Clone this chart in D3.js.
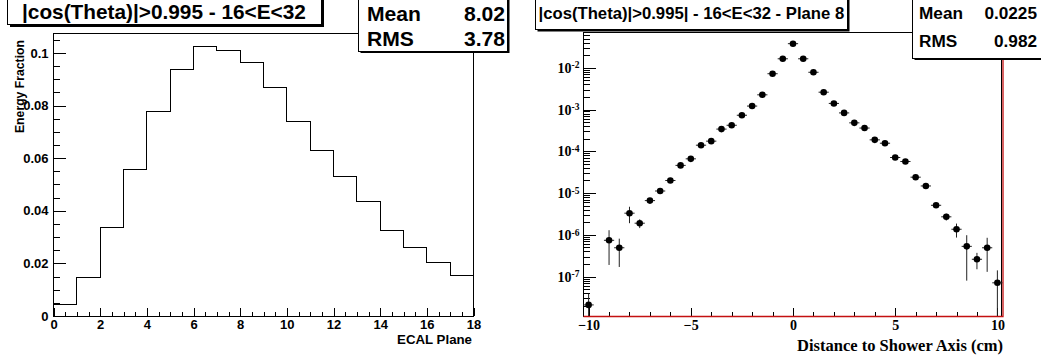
<!DOCTYPE html>
<html>
<head>
<meta charset="utf-8">
<script src="https://cdn.jsdelivr.net/npm/d3@7"></script>
<style>
  html, body { margin: 0; padding: 0; background: #fff; }
  svg { display: block; }
  .sans { font-family: "Liberation Sans", Arial, sans-serif; font-weight: bold; }
  .serif { font-family: "Liberation Serif", "Times New Roman", serif; font-weight: bold; }
</style>
</head>
<body>
<svg width="1041" height="360"></svg>
<script>
'use strict';

// ---- left panel: energy fraction per ECAL plane (bin edges 0..18)
var planeEdges = [0, 1, 2, 3, 4, 5, 6, 7, 8, 9, 10, 11, 12, 13, 14, 15, 16, 17, 18];
var energyFraction = [0.0047, 0.0150, 0.0337, 0.0558, 0.0779, 0.0940, 0.1027, 0.1011, 0.0965,
                      0.0871, 0.0743, 0.0632, 0.0532, 0.0436, 0.0328, 0.0262, 0.0207, 0.0156];
var leftYTicks = [0, 0.02, 0.04, 0.06, 0.08, 0.1];
var leftXTicks = [0, 2, 4, 6, 8, 10, 12, 14, 16, 18];
var leftStats = [["Mean", "8.02"], ["RMS", "3.78"]];

// ---- right panel: transverse profile, plane 8 (bin centres, width 0.5)
var distance = [-10, -9.5, -9, -8.5, -8, -7.5, -7, -6.5, -6, -5.5, -5, -4.5, -4, -3.5, -3, -2.5, -2, -1.5, -1, -0.5,
                0, 0.5, 1, 1.5, 2, 2.5, 3, 3.5, 4, 4.5, 5, 5.5, 6, 6.5, 7, 7.5, 8, 8.5, 9, 9.5, 10];
var profile = [2.1e-8, null, 7.4e-7, 4.9e-7, 3.3e-6, 1.9e-6, 6.6e-6, 1.12e-5, 2.0e-5, 4.6e-5, 6.6e-5,
               1.40e-4, 1.75e-4, 3.4e-4, 4.2e-4, 7.3e-4, 1.21e-3, 2.25e-3, 7.2e-3, 1.64e-2,
               3.77e-2, 1.64e-2, 7.8e-3, 2.6e-3, 1.40e-3, 8.3e-4, 4.8e-4, 3.6e-4, 1.88e-4, 1.56e-4,
               7.1e-5, 5.7e-5, 2.4e-5, 1.48e-5, 5.1e-6, 2.7e-6, 1.36e-6, 5.3e-7, 2.6e-7, 4.9e-7, 7.1e-8];
var profileErr = [1.8e-8, null, 5.5e-7, 3.2e-7, 1.4e-6, 4.5e-7, 6e-7, 8e-7, 1.2e-6, 2e-6, 2.5e-6,
                  4e-6, 5e-6, 8e-6, 9e-6, 1.3e-5, 2e-5, 3e-5, 6e-5, 1e-4,
                  1.5e-4, 1e-4, 6e-5, 3e-5, 2e-5, 1.5e-5, 1e-5, 8e-6, 5e-6, 5e-6,
                  3e-6, 2.5e-6, 1.5e-6, 1e-6, 7e-7, 5e-7, 5e-7, 4.5e-7, 1.1e-7, 3.6e-7, 7e-8];
var rightDecades = [-7, -6, -5, -4, -3, -2];
var rightXTicks = [-10, -5, 0, 5, 10];
var rightStats = [["Mean", "0.0225"], ["RMS", "0.982"]];

var svg = d3.select("svg");

// scale a text's font so it spans the wanted width
var fitText = function(t, width) {
    var fs = +t.attr("font-size");
    var len = t.node().getComputedTextLength();
    if (len > 0) t.attr("font-size", (fs * width / len).toFixed(2));
    return t;
};

var drawBox = function(x, y, w, h, shadow) {
    svg.append("rect")
        .attr("x", x + shadow).attr("y", y + shadow)
        .attr("width", w).attr("height", h)
        .attr("fill", "#000");
    svg.append("rect")
        .attr("x", x).attr("y", y)
        .attr("width", w).attr("height", h)
        .attr("fill", "#fff").attr("stroke", "#000").attr("stroke-width", 1)
        .attr("shape-rendering", "crispEdges");
};

var drawStats = function(x, y, w, h, rows, meanWidth, xl, xr, baselines) {
    drawBox(x, y, w, h, 2);
    var probe = svg.append("text").attr("class", "sans").attr("font-size", 20).text(rows[0][0]);
    fitText(probe, meanWidth);
    var fontSize = probe.attr("font-size");
    probe.remove();
    rows.forEach(function(r, i) {
        svg.append("text").attr("class", "sans").attr("font-size", fontSize)
            .attr("x", xl).attr("y", baselines[i]).text(r[0]);
        svg.append("text").attr("class", "sans").attr("font-size", fontSize)
            .attr("text-anchor", "end").attr("x", xr).attr("y", baselines[i]).text(r[1]);
    });
};

var styleAxis = function(g) {
    g.select(".domain").remove();
    g.selectAll("line").attr("stroke", "#000").attr("shape-rendering", "crispEdges");
};

// ================= left panel =================
var renderLeft = function() {
    var x = d3.scaleLinear().domain([0, 18]).range([53.5, 473.5]);
    var y = d3.scaleLinear().domain([0, 0.1076]).range([316, 33]);

    // minor ticks
    svg.append("g").attr("transform", "translate(53.5,0)")
        .call(d3.axisLeft(y).tickValues(d3.range(0, 0.106, 0.005)).tickSize(-6.5).tickFormat(""))
        .call(styleAxis);
    svg.append("g").attr("transform", "translate(0,316)")
        .call(d3.axisBottom(x).tickValues(d3.range(0, 18.01, 0.5)).tickSize(-4.5).tickFormat(""))
        .call(styleAxis);

    // major ticks + labels
    svg.append("g").attr("transform", "translate(53.5,0)")
        .call(d3.axisLeft(y).tickValues(leftYTicks).tickSize(-12.7).tickPadding(5)
            .tickFormat(function(d) { return String(+d.toFixed(2)); }))
        .call(styleAxis)
        .selectAll("text").attr("class", "sans").attr("font-size", 13).attr("fill", "#000");
    svg.append("g").attr("transform", "translate(0,316)")
        .call(d3.axisBottom(x).tickValues(leftXTicks).tickSize(-8).tickPadding(4))
        .call(styleAxis)
        .selectAll("text").attr("class", "sans").attr("font-size", 13).attr("fill", "#000");

    // frame
    svg.append("rect")
        .attr("x", x(0)).attr("y", y(0.1076))
        .attr("width", x(18) - x(0)).attr("height", y(0) - y(0.1076))
        .attr("fill", "none").attr("stroke", "#000").attr("shape-rendering", "crispEdges");

    // histogram outline
    var pts = energyFraction.map(function(v, i) { return [planeEdges[i], v]; });
    pts.push([planeEdges[planeEdges.length - 1], energyFraction[energyFraction.length - 1]]);
    svg.append("path")
        .datum(pts)
        .attr("d", d3.line()
            .x(function(d) { return x(d[0]); })
            .y(function(d) { return Math.round(y(d[1])) + 0.5; })
            .curve(d3.curveStepAfter))
        .attr("fill", "none").attr("stroke", "#000").attr("stroke-width", 1)
        .attr("shape-rendering", "crispEdges");

    // axis titles
    fitText(svg.append("text").attr("class", "sans").attr("font-size", 12)
        .attr("text-anchor", "end")
        .attr("transform", "translate(24,40) rotate(-90)")
        .text("Energy Fraction"), 93);
    fitText(svg.append("text").attr("class", "sans").attr("font-size", 13)
        .attr("text-anchor", "end").attr("x", 472).attr("y", 344)
        .text("ECAL Plane"), 75);

    // title + stats
    drawBox(7.5, -5, 314, 29.5, 2.5);
    fitText(svg.append("text").attr("class", "sans").attr("font-size", 20)
        .attr("x", 22).attr("y", 18.5)
        .text("|cos(Theta)|>0.995 - 16<E<32"), 284);
    drawStats(358.5, -5, 149, 56, leftStats, 54, 367, 505, [20.5, 46]);
};

// ================= right panel =================
var renderRight = function() {
    var x = d3.scaleLinear().domain([-10.25, 10.25]).range([583.5, 1002.5]);
    var y = d3.scaleLog().domain([1.14e-8, 0.0718]).range([316, 32]);

    var minor = [];
    d3.range(-8, -1).forEach(function(e) {
        for (var m = 2; m <= 9; m++) {
            var v = m * Math.pow(10, e);
            if (v > y.domain()[0] && v < y.domain()[1]) minor.push(v);
        }
    });
    var majors = rightDecades.map(function(e) { return Math.pow(10, e); });

    svg.append("g").attr("transform", "translate(583.5,0)")
        .call(d3.axisLeft(y).tickValues(minor).tickSize(-6.5).tickFormat(""))
        .call(styleAxis);
    svg.append("g").attr("transform", "translate(0,316)")
        .call(d3.axisBottom(x).tickValues(d3.range(-10, 10.5, 1)).tickSize(-4.5).tickFormat(""))
        .call(styleAxis);

    var yAxis = svg.append("g").attr("transform", "translate(583.5,0)")
        .call(d3.axisLeft(y).tickValues(majors).tickSize(-12.7).tickPadding(4).tickFormat(""))
        .call(styleAxis);
    yAxis.selectAll(".tick text")
        .attr("class", "serif").attr("font-size", 14).attr("fill", "#000")
        .each(function(d) {
            var t = d3.select(this);
            t.append("tspan").text("10");
            t.append("tspan").attr("font-size", 9.5).attr("dy", "-0.45em")
                .text(String(Math.round(Math.log10(d))));
        });

    svg.append("g").attr("transform", "translate(0,316)")
        .call(d3.axisBottom(x).tickValues(rightXTicks).tickSize(-8).tickPadding(4))
        .call(styleAxis)
        .selectAll("text").attr("class", "serif").attr("font-size", 14).attr("fill", "#000");

    // frame
    svg.append("rect")
        .attr("x", 583.5).attr("y", 32.5)
        .attr("width", 1001.5 - 583.5).attr("height", 316 - 32.5)
        .attr("fill", "none").attr("stroke", "#000").attr("shape-rendering", "crispEdges");
    svg.append("path")
        .attr("d", "M583.5,316.5H1003V32.5")
        .attr("fill", "none").attr("stroke", "#c41010").attr("stroke-width", 1.3);

    // points with error bars
    var data = distance.map(function(d, i) {
        return { x: d, v: profile[i], e: profileErr[i] };
    }).filter(function(d) { return d.v !== null; });

    var ymin = y.domain()[0];
    var g = svg.append("g");
    var pts = g.selectAll("g.pt").data(data).enter().append("g").attr("class", "pt");
    pts.append("line")
        .attr("x1", function(d) { return x(d.x - 0.25); })
        .attr("x2", function(d) { return x(d.x + 0.25); })
        .attr("y1", function(d) { return y(d.v); })
        .attr("y2", function(d) { return y(d.v); })
        .attr("stroke", "#222").attr("stroke-width", 1);
    pts.append("line")
        .attr("x1", function(d) { return x(d.x); })
        .attr("x2", function(d) { return x(d.x); })
        .attr("y1", function(d) { return y(d.v + d.e); })
        .attr("y2", function(d) { return d.v - d.e > ymin ? y(d.v - d.e) : y(ymin); })
        .attr("stroke", "#222").attr("stroke-width", 1);
    pts.append("circle")
        .attr("cx", function(d) { return x(d.x); })
        .attr("cy", function(d) { return y(d.v); })
        .attr("r", 3.3)
        .attr("fill", "#000");

    fitText(svg.append("text").attr("class", "serif").attr("font-size", 16.5)
        .attr("text-anchor", "end").attr("x", 1003).attr("y", 351)
        .text("Distance to Shower Axis (cm)"), 206);

    drawBox(535.5, -5, 312, 34.5, 2);
    fitText(svg.append("text").attr("class", "sans").attr("font-size", 17)
        .attr("x", 538.5).attr("y", 19)
        .text("|cos(Theta)|>0.995| - 16<E<32 - Plane 8"), 306);
    drawStats(912.5, -5, 140, 63, rightStats, 44, 919, 1037, [19, 46.5]);
};

renderLeft();
renderRight();
</script>
</body>
</html>
